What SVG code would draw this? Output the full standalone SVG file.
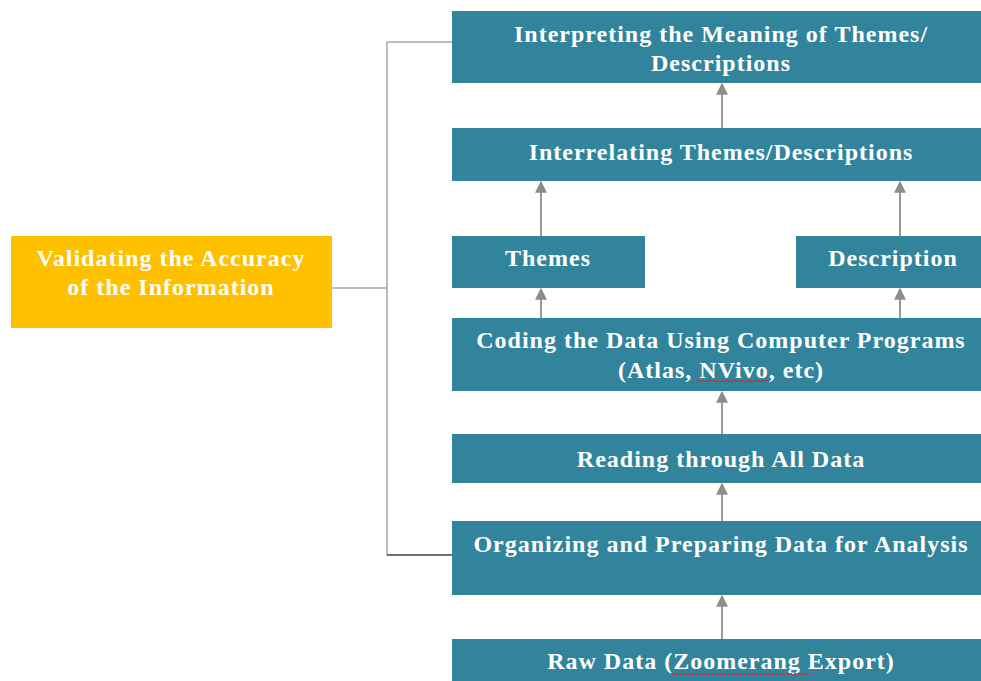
<svg xmlns="http://www.w3.org/2000/svg" width="981" height="681" viewBox="0 0 981 681">
<defs>
<style>
.box{fill:#31849b;}
.yel{fill:#ffc000;}
.t{font-weight:bold;font-size:24px;letter-spacing:1px;fill:#ffffff;text-anchor:middle;}
.arr{stroke:#999999;stroke-width:2;fill:none;marker-end:url(#ah);}
.ln{stroke:#a6a6a6;stroke-width:1.5;fill:none;}
.sq{stroke:#e02020;stroke-width:1;fill:none;}
</style>
<marker id="ah" viewBox="0 0 10 10" refX="9" refY="5" markerWidth="6" markerHeight="6" orient="auto" markerUnits="strokeWidth">
<path d="M0,0 L10,5 L0,10 Z" fill="#8c8c8c"/>
</marker>
</defs>
<rect width="981" height="681" fill="#ffffff"/>
<g id="connectors">
<path class="ln" d="M332,288 H387 M387,42 V555 M387,42 H452"/>
<path d="M387,555 H452" stroke="#404040" stroke-width="1.5" fill="none"/>
<line class="arr" x1="722" y1="128" x2="722" y2="84"/>
<line class="arr" x1="541" y1="236" x2="541" y2="182"/>
<line class="arr" x1="900" y1="236" x2="900" y2="182"/>
<line class="arr" x1="541" y1="318" x2="541" y2="289"/>
<line class="arr" x1="900" y1="318" x2="900" y2="289"/>
<line class="arr" x1="722" y1="434" x2="722" y2="392"/>
<line class="arr" x1="722" y1="521" x2="722" y2="484"/>
<line class="arr" x1="722" y1="639" x2="722" y2="596"/>
</g>
<g font-family="Liberation Serif, Times New Roman, serif">
<g id="validating">
<rect class="yel" x="11" y="236" width="321" height="92"/>
<text class="t" x="171" y="266">Validating the Accuracy</text>
<text class="t" x="171" y="295">of the Information</text>
</g>
<g id="interpreting">
<rect class="box" x="452" y="11" width="529" height="72"/>
<text class="t" x="721" y="42">Interpreting the Meaning of Themes/</text>
<text class="t" x="721" y="71">Descriptions</text>
</g>
<g id="interrelating">
<rect class="box" x="452" y="128" width="529" height="53"/>
<text class="t" x="721" y="160">Interrelating Themes/Descriptions</text>
</g>
<g id="themes">
<rect class="box" x="452" y="236" width="193" height="52"/>
<text class="t" x="548" y="266">Themes</text>
</g>
<g id="description">
<rect class="box" x="796" y="236" width="185" height="52"/>
<text class="t" x="893" y="266">Description</text>
</g>
<g id="coding">
<rect class="box" x="452" y="318" width="529" height="73"/>
<text class="t" x="721" y="348">Coding the Data Using Computer Programs</text>
<text class="t" x="721" y="378">(Atlas, NVivo, etc)</text>
<path class="sq" d="M698,380 l2,2 l2,-2 l2,2 l2,-2 l2,2 l2,-2 l2,2 l2,-2 l2,2 l2,-2 l2,2 l2,-2 l2,2 l2,-2 l2,2 l2,-2 l2,2 l2,-2 l2,2 l2,-2 l2,2 l2,-2 l2,2 l2,-2 l2,2 l2,-2 l2,2 l2,-2 l2,2 l2,-2 l2,2 l2,-2 l2,2 l2,-2 l2,2 l2,-2"/>
</g>
<g id="reading">
<rect class="box" x="452" y="434" width="529" height="49"/>
<text class="t" x="721" y="467">Reading through All Data</text>
</g>
<g id="organizing">
<rect class="box" x="452" y="521" width="529" height="74"/>
<text class="t" x="721" y="552">Organizing and Preparing Data for Analysis</text>
</g>
<g id="raw">
<rect class="box" x="452" y="639" width="529" height="42"/>
<text class="t" x="721" y="669">Raw Data (Zoomerang Export)</text>
<path class="sq" d="M671,673 l2,2 l2,-2 l2,2 l2,-2 l2,2 l2,-2 l2,2 l2,-2 l2,2 l2,-2 l2,2 l2,-2 l2,2 l2,-2 l2,2 l2,-2 l2,2 l2,-2 l2,2 l2,-2 l2,2 l2,-2 l2,2 l2,-2 l2,2 l2,-2 l2,2 l2,-2 l2,2 l2,-2 l2,2 l2,-2 l2,2 l2,-2 l2,2 l2,-2 l2,2 l2,-2 l2,2 l2,-2 l2,2 l2,-2 l2,2 l2,-2 l2,2 l2,-2 l2,2 l2,-2 l2,2 l2,-2 l2,2 l2,-2 l2,2 l2,-2 l2,2 l2,-2 l2,2 l2,-2 l2,2 l2,-2 l2,2 l2,-2 l2,2 l2,-2 l2,2 l2,-2 l2,2 l2,-2 l2,2"/>
</g>
</g>
</svg>
